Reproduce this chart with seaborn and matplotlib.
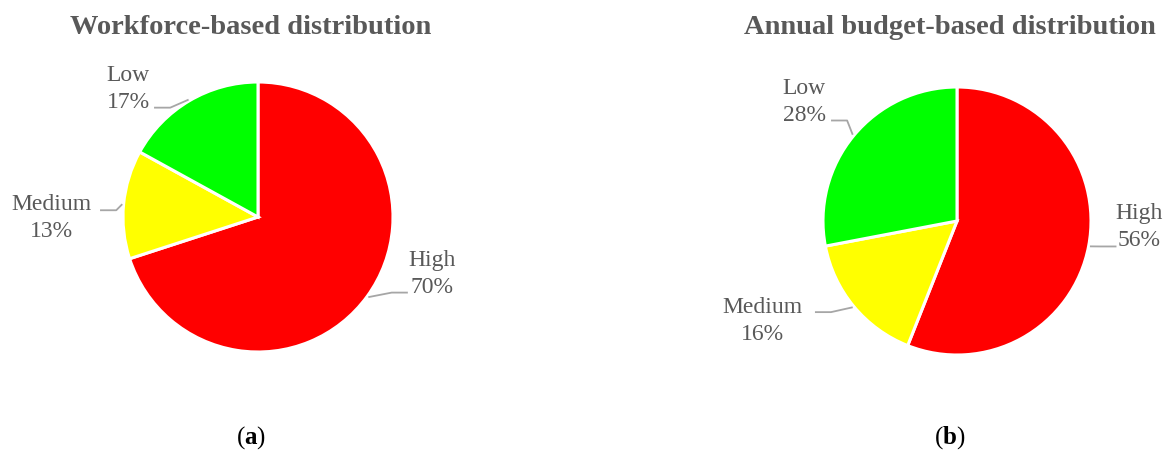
import numpy as np
import matplotlib
matplotlib.use("Agg")
import matplotlib.pyplot as plt
import seaborn as sns

# Risk-level shares
levels = ["High", "Medium", "Low"]
workforce_pct = [70, 13, 17]
budget_pct = [56, 16, 28]

titles = ["Workforce-based distribution", "Annual budget-based distribution"]
captions = ["a", "b"]

level_colors = {"High": "#FF0000", "Medium": "#FFFF00", "Low": "#00FF00"}

sns.set_theme(style="white")
plt.rcParams["font.family"] = ["Liberation Serif", "DejaVu Serif"]
plt.rcParams["mathtext.fontset"] = "custom"
plt.rcParams["mathtext.bf"] = "Liberation Serif:bold"

TEXT = "#595959"
LINE = "#A6A6A6"

W, H = 1171, 452
fig = plt.figure(figsize=(W / 100, H / 100), dpi=100)
fig.patch.set_facecolor("white")


def pie_axes(cx, cy, r):
    return fig.add_axes([(cx - r) / W, (H - cy - r) / H, 2 * r / W, 2 * r / H])


# label centre and leader end-point per slice (in pie-radius units)
label_layout = [
    {"High": ((1.29, -0.415), (1.11, -0.56)),
     "Medium": ((-1.53, 0.0), (-1.17, 0.05)),
     "Low": ((-0.96, 0.955), (-0.77, 0.81))},
    {"High": ((1.36, -0.037), (1.19, -0.19)),
     "Medium": ((-1.45, -0.74), (-1.06, -0.68)),
     "Low": ((-1.14, 0.895), (-0.94, 0.75))},
]

centers = [(258, 218, 135), (957, 222, 134)]

for k, values in enumerate([workforce_pct, budget_pct]):
    cx, cy, r = centers[k]
    ax = pie_axes(cx, cy, r)
    wedges, _ = ax.pie(values, colors=[level_colors[l] for l in levels],
                       startangle=90, counterclock=False, radius=1,
                       wedgeprops=dict(edgecolor="white", linewidth=2.2))
    ax.set_xlim(-1.0, 1.0)
    ax.set_ylim(-1.0, 1.0)
    ax.set_aspect("equal")
    ax.axis("off")

    for w, lvl, v in zip(wedges, levels, values):
        mid = np.deg2rad((w.theta1 + w.theta2) / 2)
        px, py = np.cos(mid), np.sin(mid)
        (tx, ty), (ex, ey) = label_layout[k][lvl]
        side = 1 if ex > px else -1
        elbow_x = ex - side * 0.12
        ax.plot([px * 1.01, elbow_x, ex], [py * 1.01, ey, ey],
                color=LINE, lw=1.3, clip_on=False, solid_capstyle="butt")
        ax.text(tx, ty, f"{lvl}\n{v}%", ha="center", va="center",
                fontsize=17, color=TEXT, linespacing=1.4, clip_on=False)

    fig.text(cx / W - 0.006, 1 - 27 / H, titles[k], ha="center", va="center",
             fontsize=20.5, fontweight="bold", color=TEXT)
    fig.text(cx / W - 0.006, 1 - 438 / H, "(" + r"$\mathbf{" + captions[k] + "}$" + ")",
             ha="center", va="center", fontsize=18, color="black")

fig.savefig("out.png", dpi=100, facecolor="white")
